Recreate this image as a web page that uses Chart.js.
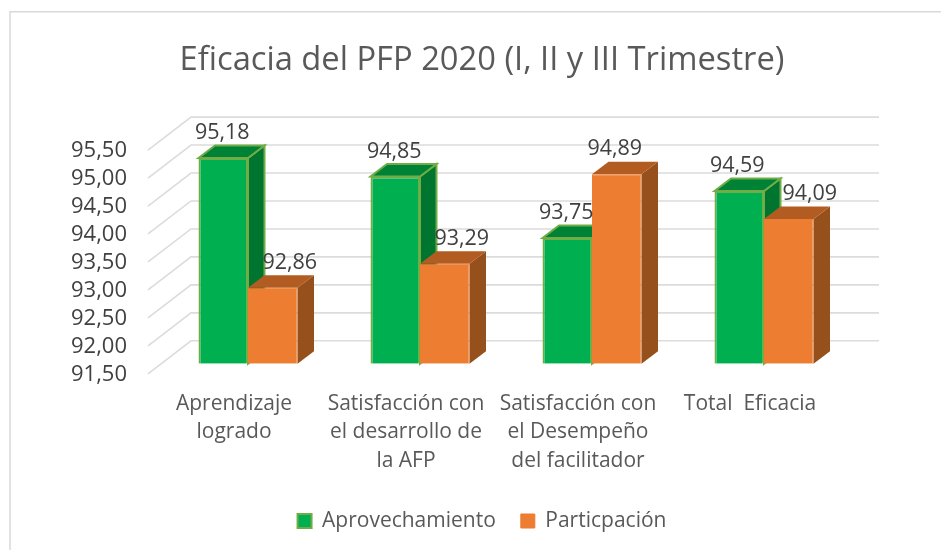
<!DOCTYPE html>
<html><head><meta charset="utf-8">
<style>html,body{margin:0;padding:0;background:#fff}#wrap{width:941px;height:550px;position:relative}</style>
<script src="https://cdn.jsdelivr.net/npm/chart.js@4"></script>
</head><body><div id="wrap"><canvas id="c" width="941" height="550"></canvas></div>
<script>
const categories = [["Aprendizaje","logrado"],["Satisfacción con","el desarrollo de","la AFP"],["Satisfacción con","el Desempeño","del facilitador"],"Total  Eficacia"];
const aprovechamiento = [95.18,94.85,93.75,94.59];
const participacion = [92.86,93.29,94.89,94.09];
const yMin = 91.5, yMax = 95.5, yStep = 0.5;
const FONT = '"Open Sans"';
const fmt = v => v.toFixed(2).replace('.',',');

const scene = {
  id:'scene',
  beforeDraw(chart){
    const {ctx,width,height} = chart;
    ctx.save();
    ctx.fillStyle='#fff';ctx.fillRect(0,0,width,height);
    ctx.strokeStyle='#d9d9d9';ctx.lineWidth=1.5;
    ctx.beginPath();ctx.moveTo(10,550);ctx.lineTo(10,11.7);ctx.lineTo(941,11.7);ctx.stroke();
    ctx.restore();
  },
  beforeDatasetsDraw(chart){
    const {ctx,chartArea:a} = chart, y = chart.scales.y;
    ctx.save();
    ctx.strokeStyle='#dcdcdc';ctx.lineWidth=1.6;
    for(const t of y.ticks){
      const p=y.getPixelForValue(t.value);
      ctx.beginPath();ctx.moveTo(a.left-14,p+10);ctx.lineTo(a.left+29,p-23);ctx.lineTo(a.right+29,p-23);ctx.stroke();
    }
    const dx=16.5,dy=-12.5;
    chart.data.datasets.forEach((ds,i)=>{
      chart.getDatasetMeta(i).data.forEach(b=>{
        const l=b.x-b.width/2,r=b.x+b.width/2,t=b.y,bt=b.base;
        ctx.lineJoin='miter';ctx.lineWidth=ds.borderWidth;ctx.strokeStyle=ds.edgeColor;
        ctx.fillStyle=ds.sideColor;
        ctx.beginPath();ctx.moveTo(r,t);ctx.lineTo(r+dx,t+dy);ctx.lineTo(r+dx,bt+dy);ctx.lineTo(r,bt);ctx.closePath();ctx.fill();
        if(ds.edgeColor)ctx.stroke();
        ctx.fillStyle=ds.topColor;
        ctx.beginPath();ctx.moveTo(l,t);ctx.lineTo(l+dx,t+dy);ctx.lineTo(r+dx,t+dy);ctx.lineTo(r,t);ctx.closePath();ctx.fill();
        if(ds.edgeColor)ctx.stroke();
      });
    });
    ctx.restore();
  },
  afterDatasetsDraw(chart,args,opts){
    const {ctx}=chart;
    ctx.save();
    ctx.font=opts.font;ctx.fillStyle=opts.color;ctx.textAlign='center';ctx.textBaseline='middle';
    chart.data.datasets.forEach((ds,i)=>{
      chart.getDatasetMeta(i).data.forEach((b,j)=>{
        ctx.fillText(fmt(ds.data[j]),b.x+opts.nudge[i][j],b.y-25);
      });
    });
    ctx.restore();
  }
};

new Chart(document.getElementById('c'),{
  type:'bar',
  data:{labels:categories,datasets:[
    {label:'Aprovechamiento',data:aprovechamiento,base:yMin,backgroundColor:'#00B050',borderColor:'#70AD47',borderWidth:2,edgeColor:'#70AD47',sideColor:'#00752F',topColor:'#008236'},
    {label:'Particpación',data:participacion,base:yMin,backgroundColor:'#ED7D31',borderColor:'#ED7D31',borderWidth:1,edgeColor:null,sideColor:'#95501B',topColor:'#B35C22'}
  ]},
  options:{
    responsive:false,animation:false,
    categoryPercentage:0.5756,barPercentage:1,
    layout:{padding:{top:0,left:23,right:0,bottom:8.5}},
    scales:{
      x:{grid:{display:false},border:{display:false},
        afterFit(s){s.height=121.7;},
        ticks:{color:'#595959',font:{family:FONT,size:21,lineHeight:1.357},labelOffset:-14,maxRotation:0,minRotation:0,padding:17.5,autoSkip:false}},
      y:{min:yMin,max:yMax,grid:{display:false},border:{display:false},
        afterFit(s){s.width=139;},
        ticks:{stepSize:yStep,autoSkip:false,color:'#404040',font:{family:FONT,size:22},labelOffset:11,padding:27,callback:v=>fmt(v)}},
      spacer:{position:'right',grid:{display:false},border:{display:false},ticks:{display:false},
        afterFit(s){s.width=91;}}
    },
    plugins:{
      title:{display:true,text:'Eficacia del PFP 2020 (I, II y III Trimestre)',color:'#595959',font:{family:FONT,size:32.7,weight:'normal'},padding:{top:41.4,bottom:59.46},align:'center'},
      legend:{position:'bottom',labels:{color:'#595959',font:{family:FONT,size:21},boxWidth:14,boxHeight:14,padding:25}},
      tooltip:{enabled:false},
      scene:{font:'21.5px '+FONT,color:'#404040',nudge:[[-1,-1,-1,-2],[17,17,-2,21]]}
    }
  },
  plugins:[scene]
});
</script></body></html>
